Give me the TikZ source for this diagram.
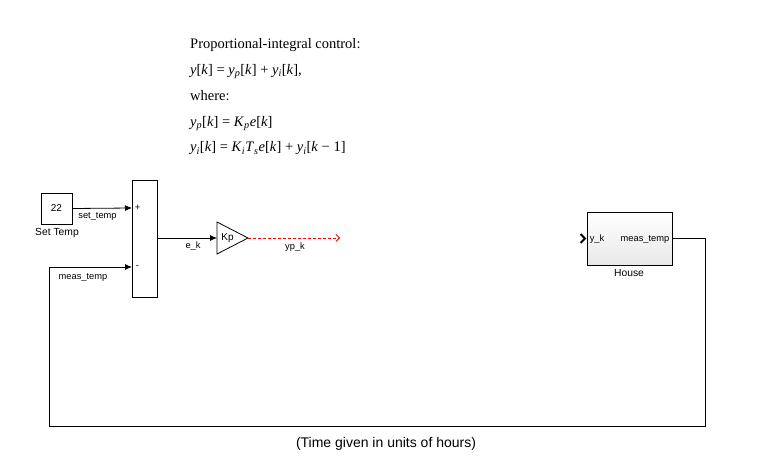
\documentclass[tikz,border=0pt]{standalone}
\usepackage{fontspec}
\setmainfont{Liberation Serif}
\setsansfont{Liberation Sans}
\usetikzlibrary{arrows.meta}
\newcommand{\vi}[1]{\textit{#1}}
\newcommand{\sbs}[1]{\textsubscript{\textit{#1}}}
\tikzset{
  blk/.style={draw,line width=0.8pt,fill=white,inner sep=0pt},
  sig/.style={line width=0.8pt,-{Latex[length=7pt,width=6pt]}},
  wire/.style={line width=0.8pt},
  lbl/.style={font=\sffamily\fontsize{9.3}{10}\selectfont,inner sep=0pt},
  blbl/.style={font=\sffamily\fontsize{10.3}{11}\selectfont,inner sep=0pt},
}
\begin{document}
\begin{tikzpicture}[x=1pt,y=-1pt]
\useasboundingbox[fill=white] (0,0) rectangle (758,476);
% equations
\node[anchor=north west,align=left,inner sep=0pt,font=\fontsize{14.5}{25.8}\selectfont] (eq) at (190,38.5)
 {Proportional-integral control:\\
  \vi{y}[\vi{k}] = \vi{y}\sbs{p}[\vi{k}] + \vi{y}\sbs{i}[\vi{k}],\\
  where:\\
  \vi{y}\sbs{p}[\vi{k}] = \vi{K}\sbs{p}\vi{e}[\vi{k}]\\
  \vi{y}\sbs{i}[\vi{k}] = \vi{K}\sbs{i}\vi{T}\sbs{s}\vi{e}[\vi{k}] + \vi{y}\sbs{i}[\vi{k} − 1]};
% constant
\node[blk,minimum width=31pt,minimum height=31pt,font=\sffamily\fontsize{10}{11}\selectfont] (c22) at (56.5,208.5) {22};
\node[blbl] (setT) at (57,233) {Set Temp};
% sum block
\node[blk,minimum width=25pt,minimum height=117pt] (sum) at (144.5,238.5) {};
\node[lbl] (plus) at (137.5,208) {+};
\node[lbl] (minus) at (137.5,267.5) {-};
\coordinate (sumin1) at (132,208);
\coordinate (sumin2) at (132,267);
% gain
\coordinate (gin) at (217,238);
\coordinate (gout) at (248,238);
\draw[line width=0.8pt,fill=white] (217,222) -- (gout) -- (217,254) -- cycle;
\node[lbl,font=\sffamily\fontsize{10}{11}\selectfont] (kp) at (227.5,238) {Kp};
% house
\node[draw,line width=0.8pt,top color=white,bottom color=gray!18,minimum width=85pt,minimum height=53pt,inner sep=0pt] (house) at (629.5,238.5) {};
\node[lbl] (yk) at (597,239) {y\_k};
\node[lbl] (mt) at (645,239) {meas\_temp};
\node[blbl] (hl) at (629,273) {House};
\draw[line width=1.8pt] (580.5,234) -- (585,238.5) -- (580.5,243);
% red end coordinate
\coordinate (redend) at (340,238);
\coordinate (c1) at (705,238.5);
\coordinate (c2) at (705,426);
\coordinate (c3) at (49,426);
\coordinate (c4) at (49,267);
% connectors
\draw[sig] (c22.east) -- (sumin1);
\node[lbl] (l1) at (97.5,216) {set\_temp};
\draw[sig] (c4) -- (sumin2);
\node[lbl] (l2) at (83,277) {meas\_temp};
\draw[sig] (sum.east |- gin) -- (gin);
\node[lbl] (l3) at (193,246.5) {e\_k};
\draw[red,line width=0.8pt,dash pattern=on 3pt off 2pt,-{Straight Barb[length=3.5pt,width=7pt]}] (gout) -- (redend);
\node[lbl] (l4) at (295,247) {yp\_k};
\draw[wire] (house.east) -- (c1) -- (c2) -- (c3) -- (c4);
% footnote
\node[font=\sffamily\fontsize{14}{16}\selectfont,inner sep=0pt] (note) at (386,444) {(Time given in units of hours)};
\end{tikzpicture}
\end{document}
